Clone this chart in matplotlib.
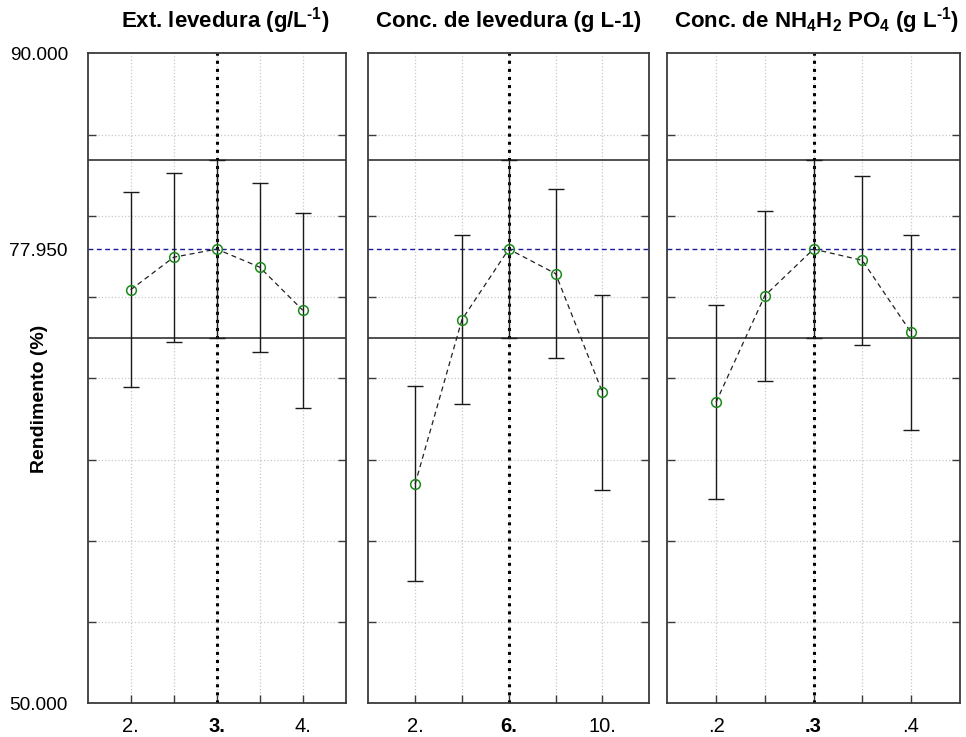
import matplotlib
matplotlib.use("Agg")
import matplotlib.pyplot as plt
from matplotlib.ticker import FixedLocator, NullFormatter

plt.rcParams['font.family'] = ['Liberation Sans', 'DejaVu Sans']
plt.rcParams['mathtext.fontset'] = 'custom'
plt.rcParams['mathtext.bf'] = 'Liberation Sans:bold'
plt.rcParams['mathtext.rm'] = 'Liberation Sans:bold'
plt.rcParams['mathtext.default'] = 'bf'

# ---- data ----
titles = ["Ext. levedura (g/L$^{\\text{-}1}$)",
          "Conc. de levedura (g L-1)",
          "Conc. de NH$_4$H$_2$ PO$_4$ (g L$^{\\text{-}1}$)"]
levels1 = [2, 2.5, 3, 3.5, 4]
means1 = [75.45, 77.45, 77.95, 76.84, 74.19]
errs1 = [6.0, 5.2, 5.5, 5.2, 6.0]
labels1 = ["2.", "", "3.", "", "4."]

levels2 = [2, 4, 6, 8, 10]
means2 = [63.50, 73.61, 77.95, 76.44, 69.13]
errs2 = [6.0, 5.21, 5.5, 5.21, 6.0]
labels2 = ["2.", "", "6.", "", "10."]

levels3 = [0.2, 0.25, 0.3, 0.35, 0.4]
means3 = [68.53, 75.08, 77.95, 77.26, 72.83]
errs3 = [5.98, 5.23, 5.5, 5.21, 5.99]
labels3 = [".2", "", ".3", "", ".4"]

center_value = 77.95
center_err = 5.5
y_min, y_max = 50.0, 90.0
y_label = "Rendimento (%)"

panels = [(levels1, means1, errs1, labels1),
          (levels2, means2, errs2, labels2),
          (levels3, means3, errs3, labels3)]

W, H = 966, 737
fig = plt.figure(figsize=(W / 100, H / 100), dpi=100)

# axes boxes in pixels (left, right)
boxes = [(87.7, 345.7), (368.3, 649.3), (667.3, 959.7)]
top_px, bot_px = 53.3, 703.3
title_cx = [225, 509, 816]

frame_col = "#3a3a3a"
for i, ((lv, mn, er, lb), (l, r)) in enumerate(zip(panels, boxes)):
    ax = fig.add_axes([l / W, (H - bot_px) / H, (r - l) / W, (bot_px - top_px) / H])
    step = lv[1] - lv[0]
    ax.set_xlim(lv[0] - step, lv[-1] + step)
    ax.set_ylim(y_min, y_max)

    ax.yaxis.set_minor_locator(FixedLocator([55, 60, 65, 70, 75, 80, 85]))
    ax.yaxis.set_minor_formatter(NullFormatter())
    ax.grid(True, which='minor', axis='y', color='#c8c8c8', linestyle=':', linewidth=0.9)
    ax.grid(True, which='major', axis='x', color='#c8c8c8', linestyle=':', linewidth=0.9)
    ax.tick_params(axis='y', which='minor', direction='in', length=6, width=1,
                   left=True, right=True, color=frame_col)

    if i == 0:
        ax.set_yticks([y_min, center_value, y_max])
        ax.set_yticklabels(["%.3f" % y_min, "%.3f" % center_value, "%.3f" % y_max],
                           fontsize=13.8)
        ax.tick_params(axis='y', which='major', length=0, pad=14.2)
    else:
        ax.set_yticks([])

    ax.set_xticks(lv)
    ax.set_xticklabels(lb, fontsize=14.5)
    ax.get_xticklabels()[2].set_fontweight('bold')
    ax.tick_params(axis='x', which='major', direction='in', length=6, width=1,
                   color=frame_col, pad=10)

    for s in ax.spines.values():
        s.set_color(frame_col)
        s.set_linewidth(1.3)

    ax.axhline(center_value + center_err, color='#202020', linewidth=1.1, zorder=2)
    ax.axhline(center_value - center_err, color='#202020', linewidth=1.1, zorder=2)
    ax.axhline(center_value, color='#1a1a9a', linestyle=(0, (3.5, 2.5)), linewidth=1.0, zorder=2)
    ax.axvline(lv[2], color='black', linestyle=':', linewidth=2.2, zorder=2)

    ax.errorbar(lv, mn, yerr=er, fmt='none', ecolor='#1a1a1a', elinewidth=1.0,
                capsize=6, capthick=1.0, zorder=3)
    ax.plot(lv, mn, color='#222222', linestyle=(0, (4, 3)), linewidth=0.9, zorder=4)
    ax.plot(lv, mn, linestyle='none', marker='o', markersize=7,
            markerfacecolor='none', markeredgecolor='#1a8a1a', markeredgewidth=1.1, zorder=5)

    fig.text(title_cx[i] / W, 1 - 21 / H, titles[i], ha='center', va='center',
             fontsize=16, fontweight='bold')

fig.text(40 / W, 1 - 399 / H, y_label, rotation=90, ha='center', va='center',
         fontsize=14, fontweight='bold')

fig.savefig("out.png", dpi=100)
